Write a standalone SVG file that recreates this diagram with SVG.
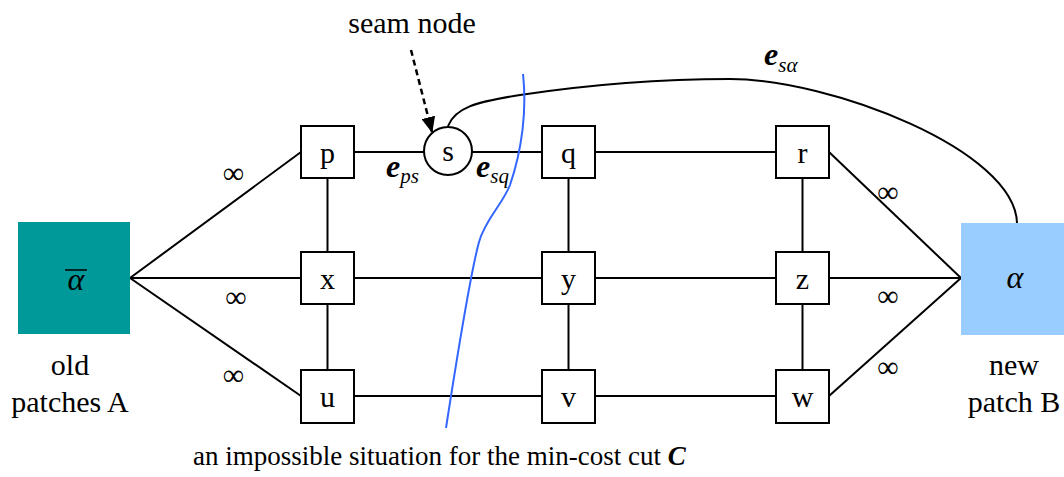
<svg xmlns="http://www.w3.org/2000/svg" width="1064" height="477" viewBox="0 0 1064 477">
<style>
text{font-family:"Liberation Serif","Times New Roman",serif;fill:#000}
.lbl{font-size:30px;text-anchor:middle}
.inf{font-size:30px;text-anchor:middle}
.box{fill:#fff;stroke:#000;stroke-width:2}
.ln{stroke:#000;stroke-width:2;fill:none}
.e{font-style:italic;font-weight:bold;font-size:32px}
.sub{font-style:italic;font-size:21px}
</style>
<defs>
<marker id="ah" markerWidth="16" markerHeight="14" refX="15" refY="7" orient="auto" markerUnits="userSpaceOnUse">
<path d="M0,0 L16,7 L0,14 z" fill="#000"/>
</marker>
</defs>
<g id="connectors">
<line class="ln" x1="130" y1="278" x2="301" y2="152"/>
<line class="ln" x1="130" y1="278" x2="301" y2="278"/>
<line class="ln" x1="130" y1="278" x2="301" y2="396"/>
<line class="ln" x1="354" y1="152" x2="424" y2="152"/>
<line class="ln" x1="472" y1="152" x2="542" y2="152"/>
<line class="ln" x1="595" y1="152" x2="776" y2="152"/>
<line class="ln" x1="354" y1="278" x2="542" y2="278"/>
<line class="ln" x1="595" y1="278" x2="776" y2="278"/>
<line class="ln" x1="354" y1="396" x2="542" y2="396"/>
<line class="ln" x1="595" y1="396" x2="776" y2="396"/>
<line class="ln" x1="327.5" y1="178" x2="327.5" y2="252"/>
<line class="ln" x1="327.5" y1="304" x2="327.5" y2="370"/>
<line class="ln" x1="568.5" y1="178" x2="568.5" y2="252"/>
<line class="ln" x1="568.5" y1="304" x2="568.5" y2="370"/>
<line class="ln" x1="802.5" y1="178" x2="802.5" y2="252"/>
<line class="ln" x1="802.5" y1="304" x2="802.5" y2="370"/>
<line class="ln" x1="829" y1="152" x2="961" y2="278"/>
<line class="ln" x1="829" y1="278" x2="961" y2="278"/>
<line class="ln" x1="829" y1="396" x2="961" y2="278"/>
<path class="ln" d="M448,126 C455,108 475,102 520,95 C580,86 650,79 730,79 C830,79 1015,150 1017,223"/>
<line x1="411" y1="50" x2="432" y2="132" stroke="#000" stroke-width="2.5" stroke-dasharray="6,4" marker-end="url(#ah)"/>
</g>
<g id="cut">
<path d="M523,74 C527,110 522,150 510,185 C502,205 485,220 479,242 C470,275 455,370 446,428" fill="none" stroke="#3366FF" stroke-width="2"/>
</g>
<g id="A">
<rect x="18" y="222" width="112" height="112" fill="#009999"/>
<text x="76" y="290" font-size="32" font-style="italic" text-anchor="middle">α</text>
<line x1="65" y1="270" x2="87" y2="270" stroke="#000" stroke-width="1.5"/>
</g>
<g id="B">
<rect x="961" y="223" width="103" height="112" fill="#99CCFF"/>
<text x="1015" y="288" font-size="32" font-style="italic" text-anchor="middle">α</text>
</g>
<g id="p"><rect class="box" x="301" y="126" width="53" height="52"/><text class="lbl" x="327.5" y="163">p</text></g>
<g id="q"><rect class="box" x="542" y="126" width="53" height="52"/><text class="lbl" x="568.5" y="163">q</text></g>
<g id="r"><rect class="box" x="776" y="126" width="53" height="52"/><text class="lbl" x="802.5" y="163">r</text></g>
<g id="x"><rect class="box" x="301" y="252" width="53" height="52"/><text class="lbl" x="327.5" y="289">x</text></g>
<g id="y"><rect class="box" x="542" y="252" width="53" height="52"/><text class="lbl" x="568.5" y="289">y</text></g>
<g id="z"><rect class="box" x="776" y="252" width="53" height="52"/><text class="lbl" x="802.5" y="289">z</text></g>
<g id="u"><rect class="box" x="301" y="370" width="53" height="53"/><text class="lbl" x="327.5" y="407">u</text></g>
<g id="v"><rect class="box" x="542" y="370" width="53" height="53"/><text class="lbl" x="568.5" y="407">v</text></g>
<g id="w"><rect class="box" x="776" y="370" width="53" height="53"/><text class="lbl" x="802.5" y="407">w</text></g>
<g id="s"><circle class="box" cx="448" cy="151" r="24"/><text class="lbl" x="448" y="161">s</text></g>
<g id="labels">
<text class="lbl" x="412" y="33">seam node</text>
<text class="lbl" x="70" y="375">old</text>
<text class="lbl" x="70" y="412">patches A</text>
<text class="lbl" x="1014" y="375">new</text>
<text class="lbl" x="1014" y="412">patch B</text>
<text class="inf" x="233.5" y="183">∞</text>
<text class="inf" x="236" y="307">∞</text>
<text class="inf" x="233.5" y="385">∞</text>
<text class="inf" x="888" y="202">∞</text>
<text class="inf" x="888" y="306">∞</text>
<text class="inf" x="888" y="377">∞</text>
<text x="386" y="177"><tspan class="e">e</tspan><tspan class="sub" dy="6">ps</tspan></text>
<text x="476" y="177"><tspan class="e">e</tspan><tspan class="sub" dy="6">sq</tspan></text>
<text x="764" y="65"><tspan class="e">e</tspan><tspan class="sub" dy="7">sα</tspan></text>
<text x="193" y="465" font-size="27">an impossible situation for the min-cost cut <tspan font-weight="bold" font-style="italic">C</tspan></text>
</g>
</svg>
